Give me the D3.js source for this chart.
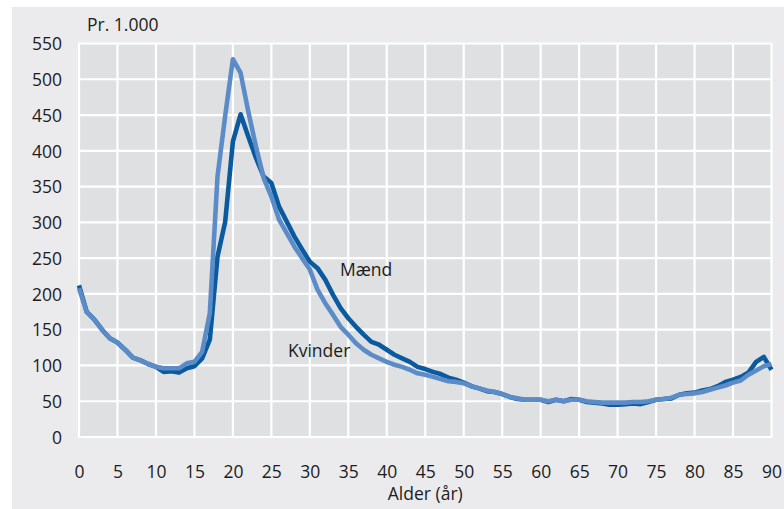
<!DOCTYPE html>
<html><head><meta charset="utf-8">
<script src="https://cdn.jsdelivr.net/npm/d3@7"></script>
<style>body{margin:0;background:#fff}svg{display:block}text{font-family:"Open Sans",sans-serif;fill:#1c1c1c}</style>
</head><body>
<svg id="c" width="784" height="509"></svg>
<script>
const ages = d3.range(0, 91);
const maend = [212,175,164,150,138,132,122,111,107,102,98,91,92,90,96,99,110,136,252,301,413,451,420,390,364,355,322,301,280,262,245,236,220,199,180,166,154,143,133,129,122,115,110,105,98,95,91,88,83,80,76,71,68,64,63,60,56,53,52,52,52,49,52,50,53,52,49,48,47,45,45,46,47,46,49,52,53,54,59,61,62,65,67,71,77,80,84,90,105,112,94];
const kvinder = [208,175,164,150,138,132,122,111,107,102,98,96,96,96,103,105,119,173,364,449,528,509,455,406,362,336,304,285,266,250,234,206,187,171,154,143,131,122,115,110,105,101,98,94,89,87,84,81,78,77,75,71,68,65,63,60,56,54,52,52,52,50,52,50,52,52,50,49,48,48,48,48,49,49,50,52,53,55,59,60,61,63,66,69,72,76,79,87,93,99,102];
const xTicks = d3.range(0, 91, 5);
const yTicks = d3.range(0, 551, 50);

const svg = d3.select("#c");
const x = d3.scaleLinear().domain([0, 90]).range([79, 771.5]);
const y = d3.scaleLinear().domain([0, 550]).range([437, 43.5]);

svg.append("rect").attr("x", 12).attr("y", 7).attr("width", 772).attr("height", 502).attr("fill", "#ebebed");
svg.append("rect").attr("x", x(0)).attr("y", y(550)).attr("width", x(90) - x(0)).attr("height", y(0) - y(550)).attr("fill", "#dfe0e2");

const g = svg.append("g");
g.selectAll("line.v").data(xTicks).join("line")
  .attr("x1", d => x(d)).attr("x2", d => x(d)).attr("y1", y(0)).attr("y2", y(550))
  .attr("stroke", "#fff").attr("stroke-width", 2.2);
g.selectAll("line.h").data(yTicks).join("line")
  .attr("x1", x(0) - 1).attr("x2", x(90) + 1).attr("y1", d => y(d)).attr("y2", d => y(d))
  .attr("stroke", "#fff").attr("stroke-width", 2.2);

const xAxis = d3.axisBottom(x).tickValues(xTicks).tickSize(0).tickPadding(0);
const xa = svg.append("g").attr("transform", `translate(0,${y(0)})`).call(xAxis);
xa.select(".domain").remove();
xa.attr("font-family", null).attr("font-size", null);
xa.selectAll("text").attr("y", 41).attr("dy", 0).style("font-size", "17.5px").attr("fill", "#1c1c1c");

const yAxis = d3.axisLeft(y).tickValues(yTicks).tickSize(0).tickPadding(0);
const ya = svg.append("g").attr("transform", `translate(62,0)`).call(yAxis);
ya.select(".domain").remove();
ya.attr("font-family", null).attr("font-size", null);
ya.selectAll("text").attr("x", 0).attr("dy", "0.36em").style("font-size", "17.5px").attr("fill", "#1c1c1c");

const line = d3.line().x((d, i) => x(ages[i])).y(d => y(d)).curve(d3.curveLinear);
svg.append("path").datum(maend).attr("d", line).attr("fill", "none")
  .attr("stroke", "#0a5a9f").attr("stroke-width", 4.6).attr("stroke-linejoin", "round");
svg.append("path").datum(kvinder).attr("d", line).attr("fill", "none")
  .attr("stroke", "#5c8cc7").attr("stroke-width", 4.6).attr("stroke-linejoin", "round");

svg.append("text").attr("x", 87).attr("y", 31).style("font-size", "17.5px").text("Pr. 1.000");
svg.append("text").attr("x", 340).attr("y", 276).style("font-size", "17.5px").text("Mænd");
svg.append("text").attr("x", 288).attr("y", 357).style("font-size", "17.5px").text("Kvinder");
svg.append("text").attr("x", (x(0) + x(90)) / 2).attr("y", 500).attr("text-anchor", "middle").style("font-size", "17.5px").text("Alder (år)");
</script>
</body></html>
